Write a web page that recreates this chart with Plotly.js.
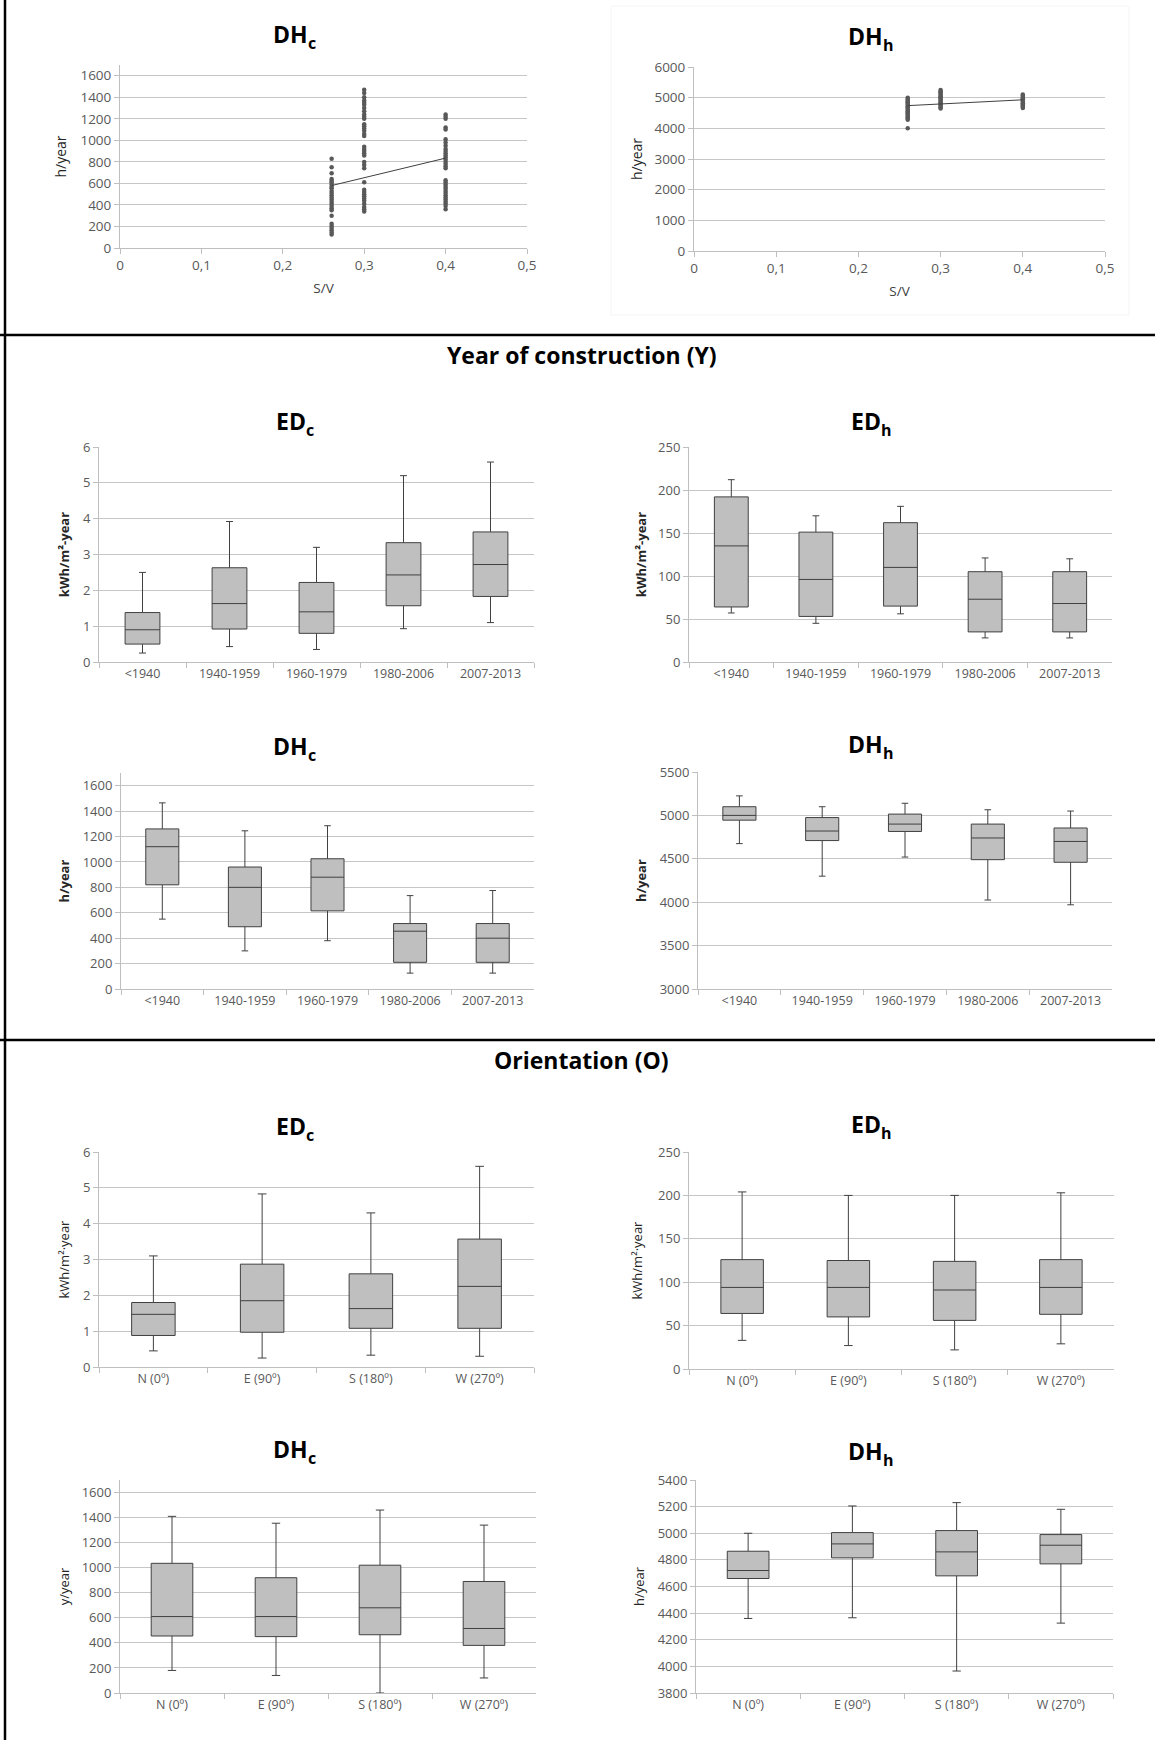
<!DOCTYPE html>
<html><head><meta charset="utf-8">
<script src="https://cdn.plot.ly/plotly-3.0.1.min.js"></script>
<style>html,body{margin:0;padding:0;background:#fff}#chart{width:1155px;height:1740px}</style>
</head><body><div id="chart"></div>
<script>
// ---------------- DATA ----------------
// S/V scatter (top row)
const svGroups = [0.26, 0.3, 0.4];
const dhcSV026 = [830, 750, 695, 640, 625, 610, 590, 570, 555, 530, 510, 490, 470, 450, 430, 410, 390, 370, 350, 300, 225, 205, 185, 165, 145, 125];
const dhcSV030 = [1470, 1440, 1400, 1370, 1350, 1330, 1300, 1270, 1240, 1220, 1200, 1150, 1130, 1110, 1090, 1060, 1040, 940, 920, 900, 880, 860, 800, 770, 740, 610, 540, 520, 500, 480, 460, 440, 410, 380, 360, 340];
const dhcSV040 = [1240, 1220, 1200, 1120, 1100, 1010, 980, 950, 920, 900, 880, 860, 840, 820, 800, 780, 760, 740, 630, 610, 590, 570, 550, 530, 510, 490, 470, 450, 430, 410, 390, 360];
const dhhSV026 = [5000, 4960, 4920, 4880, 4840, 4800, 4760, 4720, 4680, 4640, 4600, 4560, 4520, 4480, 4440, 4400, 4360, 4320, 4280, 4000];
const dhhSV030 = [5250, 5210, 5170, 5130, 5090, 5050, 5010, 4970, 4930, 4890, 4850, 4810, 4770, 4730, 4690, 4650];
const dhhSV040 = [5100, 5060, 5020, 4980, 4940, 4900, 4860, 4820, 4780, 4740, 4700, 4660];
const trendSV = [0.26, 0.4];
const trendDHc = [580, 835];
const trendDHh = [4740, 4930];

// Year of construction (Y)
const yearCats = ['<1940', '1940-1959', '1960-1979', '1980-2006', '2007-2013'];
const edcYearLo  = [0.25, 0.43, 0.35, 0.93, 1.1];
const edcYearQ1  = [0.5, 0.92, 0.8, 1.57, 1.83];
const edcYearMed = [0.9, 1.63, 1.4, 2.43, 2.72];
const edcYearQ3  = [1.38, 2.63, 2.22, 3.33, 3.63];
const edcYearHi  = [2.5, 3.92, 3.2, 5.2, 5.58];

const edhYearLo  = [57, 45, 56, 28, 28];
const edhYearQ1  = [64, 53, 65, 35, 35];
const edhYearMed = [135, 96, 110, 73, 68];
const edhYearQ3  = [192, 151, 162, 105, 105];
const edhYearHi  = [212, 170, 181, 121, 120];

const dhcYearLo  = [550, 300, 380, 125, 125];
const dhcYearQ1  = [820, 490, 615, 210, 210];
const dhcYearMed = [1120, 800, 880, 455, 400];
const dhcYearQ3  = [1260, 960, 1025, 515, 515];
const dhcYearHi  = [1465, 1245, 1285, 735, 775];

const dhhYearLo  = [4675, 4300, 4520, 4025, 3970];
const dhhYearQ1  = [4945, 4710, 4815, 4490, 4460];
const dhhYearMed = [5000, 4820, 4900, 4740, 4700];
const dhhYearQ3  = [5100, 4975, 5015, 4900, 4855];
const dhhYearHi  = [5225, 5100, 5140, 5065, 5050];

// Orientation (O)
const orientCats = ['N (0º)', 'E (90º)', 'S (180º)', 'W (270º)'];
const edcOriLo  = [0.45, 0.25, 0.33, 0.3];
const edcOriQ1  = [0.88, 0.97, 1.08, 1.08];
const edcOriMed = [1.47, 1.85, 1.63, 2.25];
const edcOriQ3  = [1.8, 2.87, 2.6, 3.57];
const edcOriHi  = [3.1, 4.83, 4.3, 5.6];

const edhOriLo  = [33, 27, 22, 29];
const edhOriQ1  = [64, 60, 56, 63];
const edhOriMed = [94, 94, 91, 94];
const edhOriQ3  = [126, 125, 124, 126];
const edhOriHi  = [204, 200, 200, 203];

const dhcOriLo  = [180, 140, 0, 120];
const dhcOriQ1  = [455, 450, 465, 380];
const dhcOriMed = [610, 610, 680, 515];
const dhcOriQ3  = [1035, 920, 1020, 890];
const dhcOriHi  = [1410, 1355, 1460, 1340];

const dhhOriLo  = [4360, 4365, 3965, 4325];
const dhhOriQ1  = [4660, 4815, 4680, 4770];
const dhhOriMed = [4720, 4920, 4860, 4910];
const dhhOriQ3  = [4865, 5005, 5020, 4990];
const dhhOriHi  = [5000, 5205, 5230, 5180];

// ---------------- STYLE / LAYOUT HELPERS ----------------
const W = 1155, H = 1740;
const FONT = '"Open Sans", Lato, Arial, sans-serif';
const TICKC = '#595959';
const AXC = '#bfbfbf';
const fx = p => p / W;
const fy = p => 1 - p / H;

function yAxis(n, y0, y1, range, dtick, title, opts) {
  opts = opts || {};
  return {
    domain: [fy(y1), fy(y0)], anchor: 'x' + n, range: range, dtick: dtick, tick0: range[0],
    showgrid: true, gridcolor: '#c6c6c6', gridwidth: 1, zeroline: false,
    showline: true, linecolor: AXC, linewidth: 1,
    ticks: 'outside', ticklen: 5, tickcolor: AXC,
    tickfont: {family: FONT, size: opts.tsize || 13, color: TICKC},
    title: {text: title, standoff: opts.standoff || 8,
            font: {family: FONT, size: opts.titleSize || 13, color: '#262626', weight: opts.bold ? 'bold' : 'normal'}},
    fixedrange: true
  };
}
function xCatAxis(n, x0, x1, ncat) {
  return {
    domain: [fx(x0), fx(x1)], anchor: 'y' + n, type: 'category', range: [-0.5, ncat - 0.5],
    showgrid: false, zeroline: false, showline: true, linecolor: AXC, linewidth: 1,
    ticks: 'outside', tickson: 'boundaries', ticklen: 5, tickcolor: AXC,
    tickfont: {family: FONT, size: 12.5, color: TICKC},
    fixedrange: true
  };
}
function xLinAxis(n, x0, x1) {
  return {
    domain: [fx(x0), fx(x1)], anchor: 'y' + n, range: [0, 0.5], dtick: 0.1, tick0: 0,
    showgrid: false, zeroline: false, showline: true, linecolor: AXC, linewidth: 1,
    ticks: 'outside', ticklen: 5, tickcolor: AXC,
    tickfont: {family: FONT, size: 13.5, color: TICKC},
    title: {text: 'S/V', standoff: 10, font: {family: FONT, size: 13.5, color: '#404040'}},
    fixedrange: true
  };
}
function boxTrace(n, cats, lo, q1, med, q3, hi) {
  return {
    type: 'box', xaxis: 'x' + n, yaxis: 'y' + n, x: cats,
    lowerfence: lo, q1: q1, median: med, q3: q3, upperfence: hi,
    width: 0.4, whiskerwidth: 0.2, boxpoints: false,
    fillcolor: '#bfbfbf', line: {color: '#404040', width: 1},
    hoverinfo: 'skip', showlegend: false
  };
}
function scatterTraces(n, groups, lists, trendY) {
  const out = [];
  groups.forEach((g, i) => {
    out.push({type: 'scatter', mode: 'markers', xaxis: 'x' + n, yaxis: 'y' + n,
      x: lists[i].map(() => g), y: lists[i],
      marker: {size: 4.5, color: '#595959'}, showlegend: false, hoverinfo: 'skip'});
  });
  out.push({type: 'scatter', mode: 'lines', xaxis: 'x' + n, yaxis: 'y' + n,
    x: trendSV, y: trendY, line: {color: '#404040', width: 1}, showlegend: false, hoverinfo: 'skip'});
  return out;
}

// ---------------- TRACES ----------------
const data = [].concat(
  scatterTraces(1, svGroups, [dhcSV026, dhcSV030, dhcSV040], trendDHc),
  scatterTraces(2, svGroups, [dhhSV026, dhhSV030, dhhSV040], trendDHh),
  [boxTrace(3, yearCats, edcYearLo, edcYearQ1, edcYearMed, edcYearQ3, edcYearHi)],
  [boxTrace(4, yearCats, edhYearLo, edhYearQ1, edhYearMed, edhYearQ3, edhYearHi)],
  [boxTrace(5, yearCats, dhcYearLo, dhcYearQ1, dhcYearMed, dhcYearQ3, dhcYearHi)],
  [boxTrace(6, yearCats, dhhYearLo, dhhYearQ1, dhhYearMed, dhhYearQ3, dhhYearHi)],
  [boxTrace(7, orientCats, edcOriLo, edcOriQ1, edcOriMed, edcOriQ3, edcOriHi)],
  [boxTrace(8, orientCats, edhOriLo, edhOriQ1, edhOriMed, edhOriQ3, edhOriHi)],
  [boxTrace(9, orientCats, dhcOriLo, dhcOriQ1, dhcOriMed, dhcOriQ3, dhcOriHi)],
  [boxTrace(10, orientCats, dhhOriLo, dhhOriQ1, dhhOriMed, dhhOriQ3, dhhOriHi)]
);

// ---------------- LAYOUT ----------------
const kwhB = 'kWh/m²-year';
const kwhR = 'kWh/m²·year';
const layout = {
  width: W, height: H, margin: {l: 0, r: 0, t: 0, b: 0},
  paper_bgcolor: '#ffffff', plot_bgcolor: 'rgba(0,0,0,0)',
  separators: ',.', showlegend: false, boxmode: 'overlay',
  font: {family: FONT, color: TICKC},

  xaxis:  xLinAxis(1, 120, 527),
  yaxis:  yAxis(1, 65, 248, [0, 1700], 200, 'h/year', {tsize: 13.5, titleSize: 14, standoff: 10}),
  xaxis2: xLinAxis(2, 694, 1105),
  yaxis2: yAxis(2, 67, 251, [0, 6000], 1000, 'h/year', {tsize: 13.5, titleSize: 14, standoff: 8}),

  xaxis3: xCatAxis(3, 99, 534, 5),
  yaxis3: yAxis(3, 447, 662, [0, 6], 1, kwhB, {bold: true, standoff: 10}),
  xaxis4: xCatAxis(4, 689, 1112, 5),
  yaxis4: yAxis(4, 447, 662, [0, 250], 50, kwhB, {bold: true, standoff: 8}),
  xaxis5: xCatAxis(5, 121, 534, 5),
  yaxis5: yAxis(5, 773, 989, [0, 1700], 200, 'h/year', {bold: true, standoff: 10}),
  xaxis6: xCatAxis(6, 698, 1112, 5),
  yaxis6: yAxis(6, 772, 989, [3000, 5500], 500, 'h/year', {bold: true, standoff: 10}),

  xaxis7: xCatAxis(7, 99, 534, 4),
  yaxis7: yAxis(7, 1152, 1367, [0, 6], 1, kwhR, {standoff: 10}),
  xaxis8: xCatAxis(8, 689, 1114, 4),
  yaxis8: yAxis(8, 1152, 1369, [0, 250], 50, kwhR, {standoff: 12}),
  xaxis9: xCatAxis(9, 120, 536, 4),
  yaxis9: yAxis(9, 1480, 1693, [0, 1700], 200, 'y/year', {standoff: 9}),
  xaxis10: xCatAxis(10, 696, 1113, 4),
  yaxis10: yAxis(10, 1480, 1693, [3800, 5400], 200, 'h/year', {standoff: 10}),

  shapes: [
    {type: 'line', xref: 'paper', yref: 'paper', x0: fx(5), x1: fx(5), y0: 0, y1: 1, line: {color: '#000', width: 2.5}},
    {type: 'line', xref: 'paper', yref: 'paper', x0: 0, x1: 1, y0: fy(335), y1: fy(335), line: {color: '#000', width: 2.5}},
    {type: 'line', xref: 'paper', yref: 'paper', x0: 0, x1: 1, y0: fy(1040), y1: fy(1040), line: {color: '#000', width: 2.5}},
    {type: 'rect', xref: 'paper', yref: 'paper', x0: fx(611), x1: fx(1129), y0: fy(315), y1: fy(6), line: {color: '#f5f5f5', width: 1}}
  ],
  annotations: []
};

function addText(text, x, y, size, xanchor) {
  layout.annotations.push({xref: 'paper', yref: 'paper', x: fx(x), y: fy(y), xanchor: xanchor || 'center', yanchor: 'middle',
    showarrow: false, text: text, borderpad: 0, borderwidth: 0,
    font: {family: FONT, size: size, color: '#000', weight: 'bold'}});
}
// chart title: main letters + subscript letter, joined at a point (main right-anchored, subscript left-anchored)
function addSubTitle(main, sub, joinX, cy) {
  addText(main, joinX, cy - 2, 23, 'right');
  addText(sub, joinX, cy + 7, 16, 'left');
}
addSubTitle('DH', 'c', 295 + 13, 36);
addSubTitle('DH', 'h', 871 + 12, 38);
addText('Year of construction (Y)', 582, 355, 23);
addSubTitle('ED', 'c', 295 + 11, 423);
addSubTitle('ED', 'h', 871 + 10, 423);
addSubTitle('DH', 'c', 295 + 13, 748);
addSubTitle('DH', 'h', 871 + 12, 746);
addText('Orientation (O)', 582, 1060, 23);
addSubTitle('ED', 'c', 295 + 11, 1128);
addSubTitle('ED', 'h', 871 + 10, 1126);
addSubTitle('DH', 'c', 295 + 13, 1451);
addSubTitle('DH', 'h', 871 + 12, 1453);

Plotly.newPlot('chart', data, layout, {staticPlot: true, displayModeBar: false});
</script>
</body></html>
